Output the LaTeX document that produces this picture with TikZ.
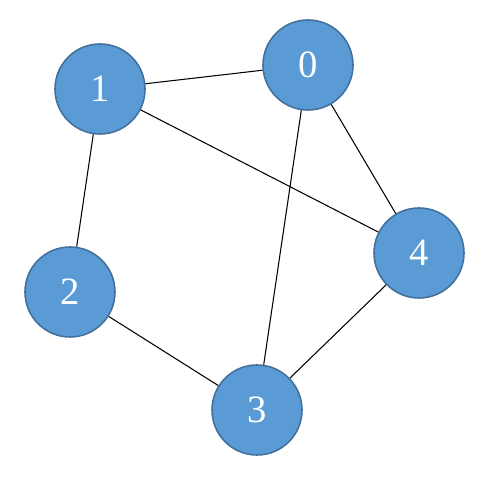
\documentclass[tikz,border=0pt]{standalone}
\usepackage{fontspec}
\setmainfont{Liberation Serif}
\usepackage{xcolor}
\usepackage{tikz}

\definecolor{vfill}{HTML}{5B9BD5}
\definecolor{vborder}{HTML}{41719C}

\begin{document}
\begin{tikzpicture}[
  vertex/.style={circle, fill=vfill, draw=vborder, line width=0.9pt,
    minimum size=1.8cm, inner sep=0pt, text=white,
    font=\fontsize{22}{26}\selectfont},
  edge/.style={black, line width=0.6pt}]
\useasboundingbox (0,0) rectangle (10,10);

% Vertices
\node[vertex] (v0) at (6.16, 8.70) {0};
\node[vertex] (v1) at (2.00, 8.22) {1};
\node[vertex] (v2) at (1.40, 4.16) {2};
\node[vertex] (v3) at (5.14, 1.80) {3};
\node[vertex] (v4) at (8.38, 4.94) {4};

% Edges
\draw[edge] (v1) -- (v0);
\draw[edge] (v1) -- (v4);
\draw[edge] (v1) -- (v2);
\draw[edge] (v0) -- (v3);
\draw[edge] (v0) -- (v4);
\draw[edge] (v2) -- (v3);
\draw[edge] (v3) -- (v4);

\end{tikzpicture}
\end{document}
